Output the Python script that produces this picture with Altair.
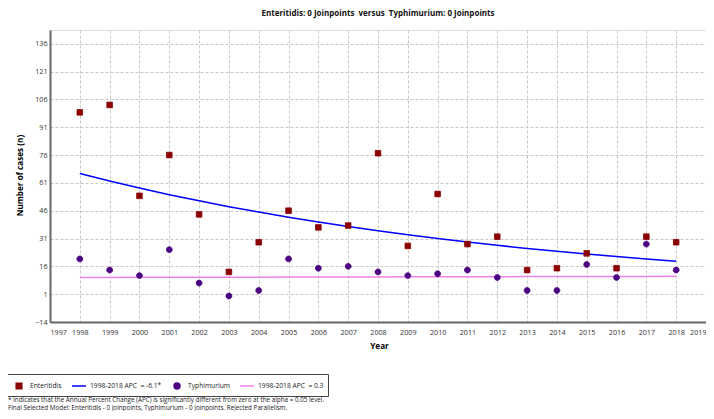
import altair as alt
import pandas as pd

years = list(range(1998, 2019))
enteritidis = [99, 103, 54, 76, 44, 13, 29, 46, 37, 38, 77, 27, 55, 28, 32, 14, 15, 23, 15, 32, 29]
typhimurium = [20, 14, 11, 25, 7, 0, 3, 20, 15, 16, 13, 11, 12, 14, 10, 3, 3, 17, 10, 28, 14]
ent_fit = [66.0, 61.97, 58.19, 54.64, 51.31, 48.18, 45.24, 42.48, 39.89, 37.46, 35.17,
           33.03, 31.01, 29.12, 27.34, 25.68, 24.11, 22.64, 21.26, 19.96, 18.74]
typ_fit = [10.00, 10.03, 10.06, 10.09, 10.12, 10.15, 10.18, 10.21, 10.24, 10.27, 10.30,
           10.34, 10.37, 10.40, 10.43, 10.46, 10.49, 10.52, 10.55, 10.59, 10.62]

series = ["Enteritidis", "1998-2018 APC \u00a0= -6.1*", "Typhimurium", "1998-2018 APC \u00a0= 0.3"]
colors = ["#8B0000", "#0000FF", "#4B0082", "#EE82EE"]
SQUARE = "M-0.4,-0.4H0.4V0.4H-0.4Z"
CIRCLE = "M-0.42,0A0.42,0.42 0 1,0 0.42,0A0.42,0.42 0 1,0 -0.42,0Z"
shapes = [SQUARE, "stroke", CIRCLE, "stroke"]
x_ticks = list(range(1997, 2020))
y_ticks = list(range(-14, 137, 15))

title = "Enteritidis: 0 Joinpoints \u00a0versus \u00a0Typhimurium: 0 Joinpoints"
note1 = "* Indicates that the Annual Percent Change (APC) is significantly different from zero at the alpha = 0.05 level."
note2 = "Final Selected Model: Enteritidis - 0 Joinpoints, Typhimurium - 0 Joinpoints. Rejected Parallelism."

pts = pd.DataFrame({
    "year": years * 2,
    "value": enteritidis + typhimurium,
    "series": [series[0]] * len(years) + [series[2]] * len(years),
})
fits = pd.DataFrame({
    "year": years * 2,
    "value": ent_fit + typ_fit,
    "series": [series[1]] * len(years) + [series[3]] * len(years),
})

FONT = "Open Sans"

xs = alt.X("year:Q", scale=alt.Scale(domain=[1997, 2019], nice=False, zero=False),
           axis=alt.Axis(title="Year", values=x_ticks, format="d", tickSize=0, labelPadding=6,
                         labelFontSize=7.2, labelColor="#333", labelFont=FONT,
                         titleFont=FONT, titleFontSize=8.2, titleFontWeight="bold",
                         titleX=329, titleY=24, titleBaseline="middle",
                         grid=True, gridDash=[3, 2], gridColor="#c8c8c8",
                         domainColor="#666", domainWidth=2, labelOverlap=False))
ys = alt.Y("value:Q", scale=alt.Scale(domain=[-14, 143.4], nice=False, zero=False),
           axis=alt.Axis(title="Number of cases (n)", values=y_ticks, tickSize=0, labelPadding=3,
                         labelFontSize=7.2, labelColor="#333", labelFont=FONT,
                         titleFont=FONT, titleFontSize=8.2, titleFontWeight="bold",
                         titleX=-30, titleY=145, titleBaseline="middle",
                         grid=True, gridDash=[3, 2], gridColor="#c8c8c8",
                         domainColor="#666", domainWidth=2, labelOverlap=False))

legend = alt.Legend(
    title=None, orient="none", legendX=-43, legendY=344, direction="horizontal",
    strokeColor="#444", padding=4, labelFontSize=6.7, labelFont=FONT, labelColor="#222",
    symbolSize=196, symbolStrokeWidth=1.5, columnPadding=7, labelOffset=3, gridAlign="none",
)

fill_enc = alt.Fill("series:N", scale=alt.Scale(domain=series, range=colors), legend=legend, sort=series)
stroke_enc = alt.Stroke("series:N", scale=alt.Scale(domain=series, range=colors), legend=legend, sort=series)
shape_enc = alt.Shape("series:N", scale=alt.Scale(domain=series, range=shapes), legend=legend, sort=series)

lines = alt.Chart(fits).mark_line(strokeWidth=1.5).encode(
    x=xs, y=ys, stroke=stroke_enc, detail="series:N")
points = alt.Chart(pts).mark_point(opacity=1, strokeWidth=0.8, size=196).encode(
    x=xs, y=ys, fill=fill_enc, stroke=stroke_enc, shape=shape_enc)

t1 = alt.Chart(alt.Data(values=[{}])).mark_text(
    align="left", baseline="middle", fontSize=6.3, font=FONT, color="#222").encode(
    x=alt.value(-42), y=alt.value(370), text=alt.value(note1))
t2 = alt.Chart(alt.Data(values=[{}])).mark_text(
    align="left", baseline="middle", fontSize=6.3, font=FONT, color="#222").encode(
    x=alt.value(-42), y=alt.value(378), text=alt.value(note2))

chart = alt.layer(lines, points, t1, t2).properties(
    width=656, height=292,
    title=alt.TitleParams(title, font=FONT, fontSize=8.0, fontWeight="bold", anchor="middle",
                          offset=12, color="#111"),
    autosize=alt.AutoSizeParams(type="none"),
    padding={"left": 42, "top": 22, "right": 0, "bottom": 89},
).configure_view(stroke="#999", strokeWidth=1.5).configure(background="white")

chart.save("out.html", embed_options={"renderer": "svg", "actions": False})
